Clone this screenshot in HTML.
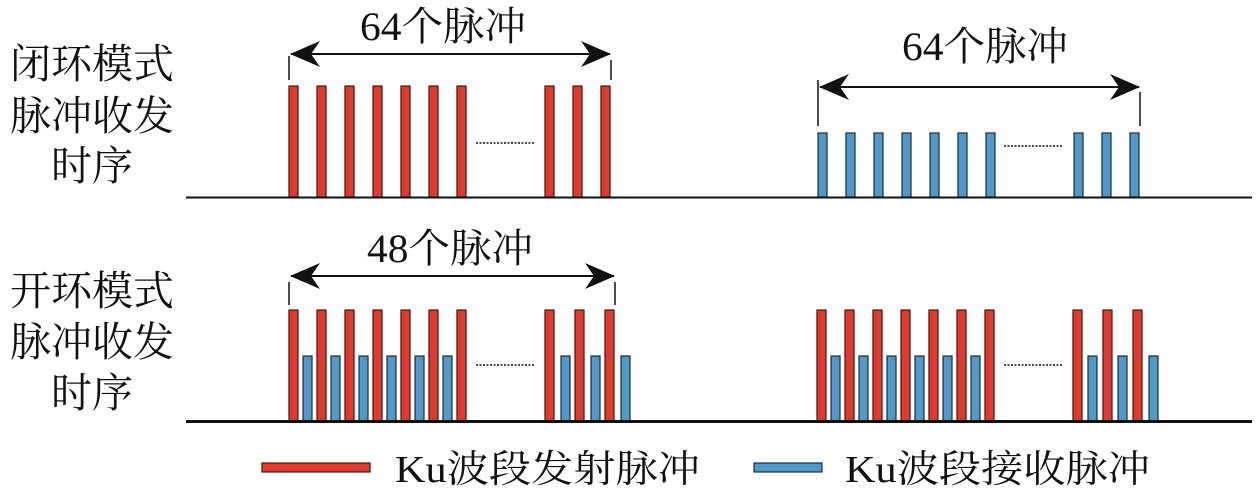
<!DOCTYPE html>
<html><head><meta charset="utf-8"><style>
html,body{margin:0;padding:0;background:#fff;}
svg{display:block;}
text{font-family:"Liberation Serif","Noto Serif CJK SC","Noto Sans CJK SC",serif;fill:#111;}
</style></head><body>
<svg width="1260" height="492" viewBox="0 0 1260 492" xmlns="http://www.w3.org/2000/svg">
<defs>
<marker id="ah" viewBox="0 0 30 26" refX="29" refY="13" markerWidth="30" markerHeight="26" markerUnits="userSpaceOnUse" orient="auto-start-reverse">
<path d="M0,0 L30,13 L0,26 L9,13 Z" fill="#111"/>
</marker>
</defs>
<g font-size="41">
<text x="92" y="78" text-anchor="middle">闭环模式</text>
<text x="92" y="130" text-anchor="middle">脉冲收发</text>
<text x="92" y="180" text-anchor="middle">时序</text>
<text x="92" y="305" text-anchor="middle">开环模式</text>
<text x="92" y="356" text-anchor="middle">脉冲收发</text>
<text x="92" y="407" text-anchor="middle">时序</text>
</g>
<g font-size="40">
<text x="443" y="40" text-anchor="middle" textLength="166" lengthAdjust="spacingAndGlyphs">64个脉冲</text>
<text x="985" y="60" text-anchor="middle" textLength="166" lengthAdjust="spacingAndGlyphs">64个脉冲</text>
<text x="450" y="262" text-anchor="middle" textLength="166" lengthAdjust="spacingAndGlyphs">48个脉冲</text>
</g>
<g stroke="#111" stroke-width="2" fill="none">
<line x1="291" y1="54" x2="610" y2="54" marker-start="url(#ah)" marker-end="url(#ah)"/>
<line x1="820" y1="87" x2="1139" y2="87" marker-start="url(#ah)" marker-end="url(#ah)"/>
<line x1="291" y1="276" x2="614" y2="276" marker-start="url(#ah)" marker-end="url(#ah)"/>
<g stroke-width="1.5">
<line x1="289" y1="56" x2="289" y2="80"/><line x1="611" y1="60" x2="611" y2="80"/>
<line x1="818" y1="80" x2="818" y2="126"/><line x1="1140" y1="92" x2="1140" y2="126"/>
<line x1="289" y1="282" x2="289" y2="305"/><line x1="615" y1="282" x2="615" y2="305"/>
</g>
<g stroke-width="1.5" stroke-dasharray="2,1.5">
<line x1="476" y1="143" x2="535" y2="143"/>
<line x1="1004" y1="146" x2="1063" y2="146"/>
<line x1="476" y1="365" x2="535" y2="365"/>
<line x1="1004" y1="365" x2="1063" y2="365"/>
</g>
</g>
<g fill="#e33a2f" stroke="#3a1a14" stroke-width="1.2">
<rect x="289" y="86" width="9" height="111"/><rect x="317" y="86" width="9" height="111"/><rect x="345" y="86" width="9" height="111"/><rect x="373" y="86" width="9" height="111"/><rect x="401" y="86" width="9" height="111"/><rect x="429" y="86" width="9" height="111"/><rect x="457" y="86" width="9" height="111"/><rect x="545" y="86" width="9" height="111"/><rect x="573" y="86" width="9" height="111"/><rect x="601" y="86" width="9" height="111"/>
<rect x="289" y="310" width="9" height="111"/><rect x="317" y="310" width="9" height="111"/><rect x="345" y="310" width="9" height="111"/><rect x="373" y="310" width="9" height="111"/><rect x="401" y="310" width="9" height="111"/><rect x="429" y="310" width="9" height="111"/><rect x="457" y="310" width="9" height="111"/><rect x="545" y="310" width="9" height="111"/><rect x="575" y="310" width="9" height="111"/><rect x="605" y="310" width="9" height="111"/>
<rect x="817" y="310" width="9" height="111"/><rect x="845" y="310" width="9" height="111"/><rect x="873" y="310" width="9" height="111"/><rect x="901" y="310" width="9" height="111"/><rect x="929" y="310" width="9" height="111"/><rect x="957" y="310" width="9" height="111"/><rect x="985" y="310" width="9" height="111"/><rect x="1073" y="310" width="9" height="111"/><rect x="1103" y="310" width="9" height="111"/><rect x="1133" y="310" width="9" height="111"/>
<rect x="262" y="463" width="108" height="9"/>
</g>
<g fill="#4f9acb" stroke="#1f2a30" stroke-width="1.2">
<rect x="818" y="133" width="9" height="64"/><rect x="846" y="133" width="9" height="64"/><rect x="874" y="133" width="9" height="64"/><rect x="902" y="133" width="9" height="64"/><rect x="930" y="133" width="9" height="64"/><rect x="958" y="133" width="9" height="64"/><rect x="986" y="133" width="9" height="64"/><rect x="1074" y="133" width="9" height="64"/><rect x="1102" y="133" width="9" height="64"/><rect x="1130" y="133" width="9" height="64"/>
<rect x="303" y="356" width="9" height="65"/><rect x="331" y="356" width="9" height="65"/><rect x="359" y="356" width="9" height="65"/><rect x="387" y="356" width="9" height="65"/><rect x="415" y="356" width="9" height="65"/><rect x="443" y="356" width="9" height="65"/><rect x="561" y="356" width="9" height="65"/><rect x="591" y="356" width="9" height="65"/><rect x="621" y="356" width="9" height="65"/>
<rect x="831" y="356" width="9" height="65"/><rect x="859" y="356" width="9" height="65"/><rect x="887" y="356" width="9" height="65"/><rect x="915" y="356" width="9" height="65"/><rect x="943" y="356" width="9" height="65"/><rect x="971" y="356" width="9" height="65"/><rect x="1088" y="356" width="9" height="65"/><rect x="1118" y="356" width="9" height="65"/><rect x="1149" y="356" width="9" height="65"/>
<rect x="754" y="463" width="68" height="9"/>
</g>
<line x1="186" y1="197.5" x2="1252" y2="197.5" stroke="#111" stroke-width="2"/>
<line x1="186" y1="421.5" x2="1252" y2="421.5" stroke="#111" stroke-width="3"/>
<g font-size="38">
<text x="395" y="482" textLength="305" lengthAdjust="spacingAndGlyphs">Ku波段发射脉冲</text>
<text x="845" y="482" textLength="305" lengthAdjust="spacingAndGlyphs">Ku波段接收脉冲</text>
</g>
</svg>
</body></html>
